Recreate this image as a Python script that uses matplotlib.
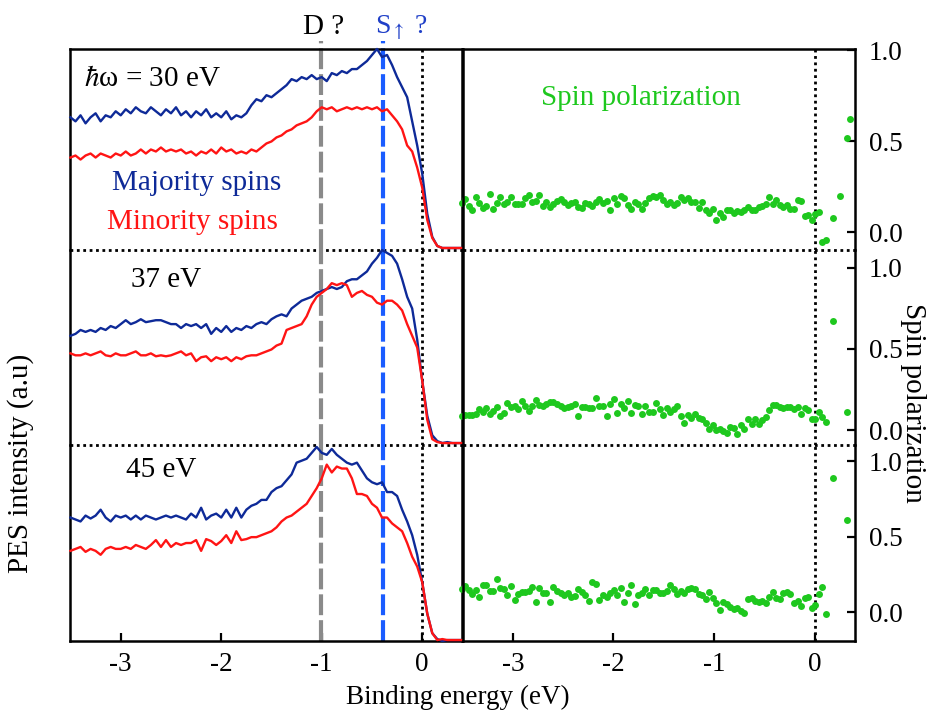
import matplotlib.pyplot as plt
import numpy as np

plt.rcParams['font.family'] = 'Liberation Serif'
plt.rcParams['mathtext.fontset'] = 'stix'
plt.rcParams['axes.unicode_minus'] = False

# binding energy grid of the PES spectra (eV)
energy = np.linspace(-3.5, 0.4, 79)

# PES spectra, normalised per photon energy (majority / minority)
maj_30 = [0.66, 0.64, 0.67, 0.63, 0.66, 0.68, 0.64, 0.67, 0.66, 0.69,
          0.67, 0.70, 0.68, 0.71, 0.69, 0.68, 0.71, 0.69, 0.67, 0.70,
          0.68, 0.71, 0.67, 0.69, 0.66, 0.69, 0.67, 0.70, 0.66, 0.68,
          0.66, 0.69, 0.65, 0.67, 0.66, 0.68, 0.72, 0.75, 0.74, 0.77,
          0.76, 0.78, 0.80, 0.82, 0.85, 0.84, 0.86, 0.85, 0.87, 0.85,
          0.86, 0.84, 0.88, 0.87, 0.89, 0.88, 0.90, 0.90, 0.92, 0.94,
          0.97, 1.00, 0.96, 0.97, 0.92, 0.86, 0.81, 0.76, 0.64, 0.52,
          0.38, 0.18, 0.065, 0.02, 0.01, 0.01, 0.01, 0.01, 0.01]
min_30 = [0.46, 0.47, 0.45, 0.47, 0.48, 0.46, 0.48, 0.47, 0.46, 0.48,
          0.47, 0.49, 0.47, 0.48, 0.50, 0.48, 0.50, 0.49, 0.51, 0.49,
          0.50, 0.49, 0.50, 0.48, 0.49, 0.47, 0.49, 0.48, 0.50, 0.48,
          0.51, 0.49, 0.50, 0.48, 0.49, 0.48, 0.50, 0.49, 0.51, 0.53,
          0.54, 0.56, 0.57, 0.59, 0.60, 0.62, 0.63, 0.64, 0.66, 0.69,
          0.71, 0.70, 0.71, 0.69, 0.70, 0.71, 0.70, 0.71, 0.70, 0.71,
          0.70, 0.71, 0.69, 0.70, 0.67, 0.64, 0.60, 0.52, 0.49, 0.41,
          0.31, 0.15, 0.06, 0.02, 0.01, 0.01, 0.01, 0.01, 0.01]
maj_37 = [0.56, 0.57, 0.59, 0.58, 0.59, 0.58, 0.60, 0.59, 0.61, 0.60,
          0.62, 0.64, 0.62, 0.63, 0.645, 0.63, 0.635, 0.64, 0.64, 0.63,
          0.62, 0.62, 0.60, 0.62, 0.61, 0.62, 0.60, 0.62, 0.57, 0.60,
          0.58, 0.61, 0.58, 0.60, 0.59, 0.61, 0.60, 0.62, 0.63, 0.62,
          0.645, 0.66, 0.67, 0.66, 0.70, 0.72, 0.74, 0.75, 0.76, 0.78,
          0.79, 0.80, 0.81, 0.80, 0.81, 0.84, 0.85, 0.85, 0.87, 0.89,
          0.93, 0.96, 1.00, 0.985, 0.97, 0.93, 0.85, 0.76, 0.70, 0.54,
          0.33, 0.15, 0.05, 0.02, 0.01, 0.015, 0.01, 0.01, 0.01]
min_37 = [0.47, 0.46, 0.46, 0.47, 0.46, 0.47, 0.48, 0.46, 0.455, 0.47,
          0.46, 0.46, 0.47, 0.48, 0.46, 0.46, 0.47, 0.455, 0.46, 0.455,
          0.46, 0.47, 0.48, 0.46, 0.47, 0.43, 0.45, 0.455, 0.43, 0.45,
          0.44, 0.45, 0.43, 0.45, 0.44, 0.455, 0.46, 0.46, 0.47, 0.48,
          0.49, 0.51, 0.52, 0.59, 0.60, 0.61, 0.62, 0.66, 0.72, 0.76,
          0.78, 0.80, 0.83, 0.82, 0.83, 0.82, 0.76, 0.78, 0.79, 0.77,
          0.76, 0.73, 0.72, 0.74, 0.74, 0.72, 0.69, 0.62, 0.56, 0.50,
          0.33, 0.13, 0.03, 0.015, 0.01, 0.01, 0.01, 0.01, 0.01]
maj_45 = [0.63, 0.62, 0.61, 0.64, 0.625, 0.64, 0.67, 0.63, 0.61, 0.64,
          0.63, 0.64, 0.62, 0.64, 0.62, 0.64, 0.63, 0.62, 0.63, 0.64,
          0.63, 0.64, 0.63, 0.62, 0.65, 0.63, 0.68, 0.62, 0.64, 0.65,
          0.63, 0.67, 0.63, 0.68, 0.63, 0.67, 0.69, 0.70, 0.72, 0.72,
          0.76, 0.78, 0.79, 0.82, 0.85, 0.91, 0.92, 0.93, 0.96, 0.99,
          0.96, 0.95, 0.98, 0.95, 0.93, 0.91, 0.90, 0.91, 0.87, 0.83,
          0.81, 0.80, 0.81, 0.76, 0.76, 0.74, 0.67, 0.61, 0.54, 0.44,
          0.30, 0.14, 0.04, 0.01, 0.0, 0.005, 0.005, 0.005, 0.005]
min_45 = [0.46, 0.47, 0.48, 0.455, 0.47, 0.46, 0.44, 0.47, 0.48, 0.47,
          0.47, 0.48, 0.47, 0.49, 0.48, 0.47, 0.49, 0.515, 0.48, 0.515,
          0.48, 0.50, 0.49, 0.50, 0.50, 0.515, 0.46, 0.52, 0.51, 0.49,
          0.51, 0.54, 0.50, 0.56, 0.515, 0.52, 0.53, 0.53, 0.54, 0.55,
          0.56, 0.58, 0.61, 0.63, 0.64, 0.66, 0.68, 0.70, 0.74, 0.78,
          0.83, 0.90, 0.86, 0.89, 0.88, 0.88, 0.83, 0.75, 0.75, 0.74,
          0.70, 0.68, 0.63, 0.63, 0.60, 0.58, 0.56, 0.50, 0.43, 0.38,
          0.30, 0.14, 0.04, 0.005, 0.01, 0.005, 0.005, 0.005, 0.005]

# spin polarization, regular grid part
pol_30 = [0.161, 0.185, 0.147, 0.121, 0.192, 0.163, 0.132, 0.147, 0.211, 0.126,
          0.161, 0.192, 0.154, 0.167, 0.192, 0.154, 0.154, 0.154, 0.189, 0.203,
          0.167, 0.174, 0.203, 0.145, 0.165, 0.137, 0.154, 0.172, 0.185, 0.165,
          0.148, 0.159, 0.168, 0.141, 0.136, 0.163, 0.154, 0.147, 0.168, 0.185,
          0.161, 0.174, 0.123, 0.187, 0.154, 0.201, 0.187, 0.148, 0.130, 0.168,
          0.154, 0.126, 0.161, 0.190, 0.201, 0.194,
          0.205, 0.180, 0.154, 0.167, 0.152, 0.161, 0.194, 0.176, 0.189, 0.167,
          0.168, 0.134, 0.165, 0.125, 0.104, 0.126, 0.070, 0.106, 0.084, 0.123,
          0.123, 0.104, 0.115, 0.114, 0.125, 0.137, 0.125, 0.125, 0.141, 0.145,
          0.154, 0.192, 0.154, 0.176, 0.148, 0.141, 0.148, 0.126, 0.126, 0.176,
          0.170, 0.088, 0.095, 0.070, 0.099, 0.110, -0.053, -0.044]
pol_37 = [0.088, 0.093, 0.093, 0.095, 0.097, 0.128, 0.113, 0.134, 0.097, 0.117,
          0.140, 0.088, 0.105, 0.169, 0.140, 0.148, 0.132, 0.181, 0.148, 0.117,
          0.146, 0.187, 0.154, 0.148, 0.158, 0.173, 0.173, 0.160, 0.148, 0.136,
          0.140, 0.146, 0.163, 0.088, 0.140, 0.140, 0.138, 0.134, 0.198, 0.146,
          0.146, 0.086, 0.160, 0.189, 0.107, 0.163, 0.136, 0.181, 0.103, 0.152,
          0.146, 0.097, 0.150, 0.111, 0.113, 0.165, 0.128,
          0.093, 0.134, 0.113, 0.128, 0.148, 0.084, 0.045, 0.093, 0.076, 0.097,
          0.076, 0.066, 0.045, 0.008, 0.031, 0.000, 0.006, -0.004, -0.021, 0.019,
          0.010, -0.027, 0.031, 0.006, 0.068, 0.037, 0.066, 0.037, 0.062, 0.082,
          0.126, 0.154, 0.154, 0.144, 0.134, 0.142, 0.144, 0.128, 0.144, 0.101,
          0.138, 0.121, 0.070, 0.070, 0.109, 0.082, 0.051]
pol_45 = [0.154, 0.176, 0.147, 0.121, 0.147, 0.103, 0.178, 0.178, 0.143, 0.141,
          0.222, 0.158, 0.152, 0.114, 0.174, 0.083, 0.121, 0.132, 0.136, 0.143,
          0.165, 0.068, 0.158, 0.130, 0.130, 0.070, 0.169, 0.143, 0.130, 0.114,
          0.130, 0.099, 0.108, 0.154, 0.132, 0.114, 0.075, 0.200, 0.187, 0.079,
          0.114, 0.103, 0.125, 0.150, 0.117, 0.163, 0.066, 0.130, 0.178, 0.055,
          0.114, 0.128, 0.152, 0.114, 0.147, 0.147,
          0.130, 0.130, 0.139, 0.178, 0.156, 0.119, 0.143, 0.125, 0.152, 0.163,
          0.152, 0.119, 0.117, 0.088, 0.134, 0.092, 0.059, 0.015, 0.070, 0.055,
          0.037, 0.020, 0.031, 0.011, -0.007, 0.086, 0.095, 0.073, 0.068, 0.077,
          0.061, 0.101, 0.134, 0.092, 0.088, 0.125, 0.136, 0.121, 0.064, 0.075,
          0.042, 0.092, 0.099, 0.026, 0.048, 0.119, 0.169, -0.011]

# scattered points above the Fermi level
tail_e_30 = [0.18, 0.25, 0.32, 0.35]
tail_p_30 = [0.081, 0.200, 0.52, 0.62]
tail_e_37 = [0.18, 0.32]
tail_p_37 = [0.67, 0.11]
tail_e_45 = [0.18, 0.32]
tail_p_45 = [0.89, 0.61]

photon_labels = [r'$\hbar$ω = 30 eV', '37 eV', '45 eV']
d_peak = -1.01
s_peak = -0.39

majority = [maj_30, maj_37, maj_45]
minority = [min_30, min_37, min_45]
polarization = [pol_30, pol_37, pol_45]
tails = [(tail_e_30, tail_p_30), (tail_e_37, tail_p_37), (tail_e_45, tail_p_45)]

c_maj = '#0e2a98'
c_min = '#ff1414'
c_pol = '#1ec81e'
c_d = '#8a8a8a'
c_s = '#1a5cff'
dots = (0, (1, 1.3))

fig = plt.figure(figsize=(9.31, 7.18), dpi=100)

row_bottom = [0.6518, 0.3802, 0.1072]
row_height = [0.2800, 0.2716, 0.2730]
pol_lims = [(-0.097, 1.007), (-0.092, 1.109), (-0.190, 1.106)]
label_pos = [(-3.37, 0.816), (-2.9, 0.81), (-2.95, 0.837)]

for r in range(3):
    axl = fig.add_axes((0.0757, row_bottom[r], 0.4210, row_height[r]))
    axr = fig.add_axes((0.4968, row_bottom[r], 0.4216, row_height[r]))

    axl.plot(energy, majority[r], color=c_maj, lw=1.7, clip_on=False, zorder=3)
    axl.plot(energy, minority[r], color=c_min, lw=1.7, clip_on=False, zorder=3)
    axl.set_ylim(0, 1)

    pol_e = np.linspace(-3.51, 0.11, len(polarization[r]))
    axr.plot(pol_e, polarization[r], 'o', color=c_pol, ms=5, mec='none', clip_on=False)
    axr.plot(tails[r][0], tails[r][1], 'o', color=c_pol, ms=5, mec='none', clip_on=False)
    axr.set_ylim(*pol_lims[r])
    axr.set_yticks([0.0, 0.5, 1.0])
    axr.set_yticklabels(['0.0', '0.5', '1.0'])
    axr.yaxis.tick_right()
    axr.tick_params(axis='y', direction='in', length=6, width=1.6, labelsize=19.5, pad=10)

    for ax in (axl, axr):
        ax.patch.set_visible(False)
        ax.set_xlim(-3.5, 0.4)
        ax.axvline(0, color='k', ls=dots, lw=2, zorder=1)
        for s in ax.spines.values():
            s.set_linewidth(1.8)
        if r > 0:
            ax.spines['top'].set_visible(False)
        if r < 2:
            ax.spines['bottom'].set_visible(False)
            ax.axhline(ax.get_ylim()[0], color='k', ls=dots, lw=2, clip_on=False, zorder=1)
            ax.tick_params(axis='x', bottom=False, labelbottom=False)
        else:
            ax.set_xticks([-3, -2, -1, 0])
            ax.tick_params(axis='x', direction='in', length=6, width=1.6, labelsize=19.5, pad=8)
    axl.set_yticks([])

    top = 1.04 if r == 0 else 1.0
    axl.axvline(d_peak, ymax=top, color=c_d, lw=3, dashes=(5, 1.2), clip_on=False, zorder=2)
    axl.axvline(s_peak, ymax=top, color=c_s, lw=3, dashes=(5, 1.2), clip_on=False, zorder=2)

    axl.text(label_pos[r][0], label_pos[r][1], photon_labels[r], fontsize=21, va='baseline')

    if r == 0:
        axl.text(-3.09, 0.30, 'Majority spins', color=c_maj, fontsize=21, va='baseline')
        axl.text(-3.14, 0.105, 'Minority spins', color=c_min, fontsize=21, va='baseline')
        axl.text(-1.19, 1.075, 'D ?', fontsize=21, va='baseline',
                 transform=axl.get_xaxis_transform())
        axl.text(-0.47, 1.075, r'S$_{\uparrow}$ ?', color='#2040c8', fontsize=20,
                 va='baseline', transform=axl.get_xaxis_transform())
        axr.text(-1.73, 0.70, 'Spin polarization', color=c_pol, fontsize=21,
                 ha='center', va='baseline')

fig.text(0.492, 0.029, 'Binding energy (eV)', fontsize=19.5, ha='center', va='center')
fig.text(0.022, 0.355, 'PES intensity (a.u)', fontsize=21, ha='center', va='center',
         rotation=90)
fig.text(0.981, 0.4387, 'Spin polarization', fontsize=21, ha='center', va='center',
         rotation=270)

fig.savefig('out.png', dpi=100)
